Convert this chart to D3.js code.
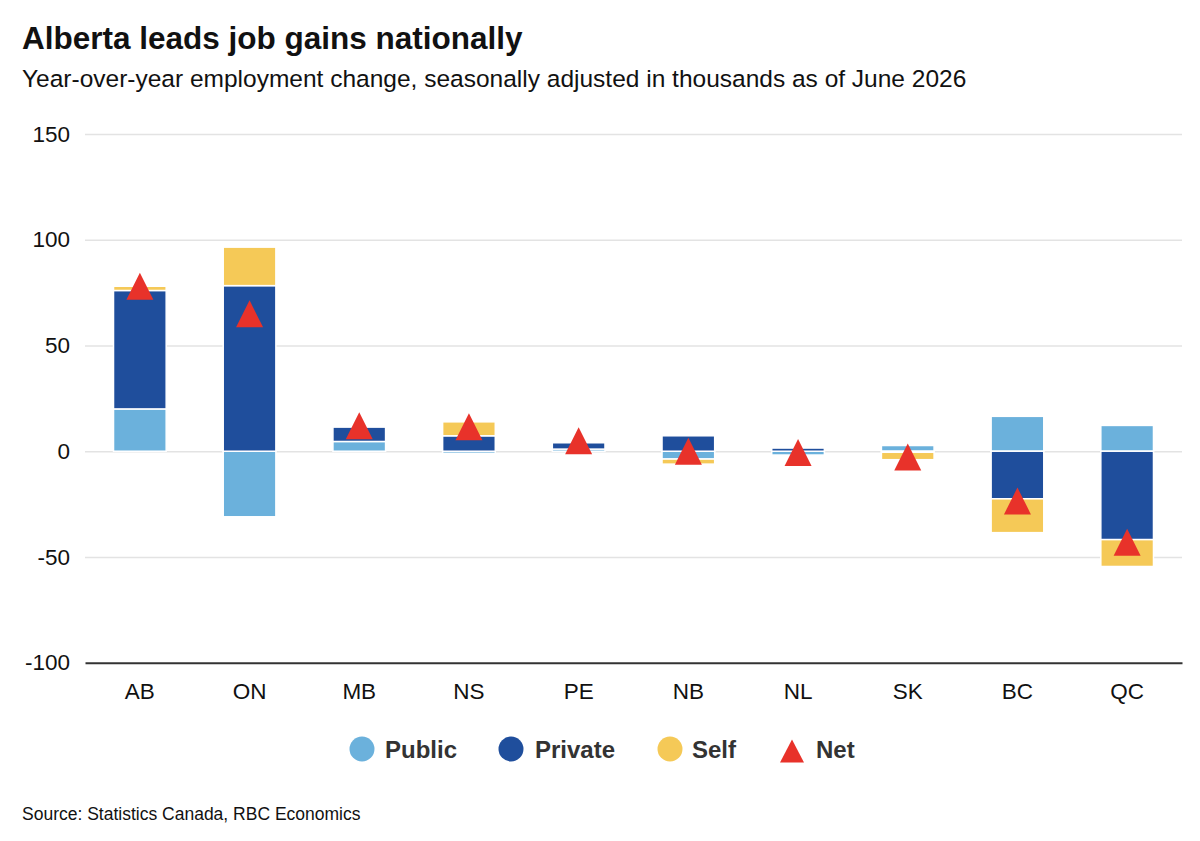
<!DOCTYPE html>
<html>
<head>
  <meta charset="utf-8">
  <script src="https://cdn.jsdelivr.net/npm/d3@7"></script>
  <title>Alberta leads job gains nationally</title>
  <style>
    body { margin: 0; background: #fff; }
    svg { font-family: "Liberation Sans", Arial, Helvetica, sans-serif; display: block; }
  </style>
</head>
<body>
<svg width="1200" height="841"></svg>

<script>
  // values, thousands of jobs
  var provinces = ["AB", "ON", "MB", "NS", "PE", "NB", "NL", "SK", "BC", "QC"];
  var publicJobs  = [20, -31, 4.6, -1, 1, -3.7, -1.8, 2.7, 16.5, 12.2];
  var privateJobs = [56, 78.3, 6.8, 7.3, 3, 7.3, 1.5, -0.5, -22.5, -41.8];
  var selfJobs    = [2, 18.2, 0, 6.6, 0, -2.4, 0, -3.5, -16, -12.7];
  var netJobs     = [78, 65, 12, 11.6, 5, 0, -0.6, -2.7, -23.5, -43];
  var yTicks = [150, 100, 50, 0, -50, -100];

  var seriesKeys = ["Public", "Private", "Self"];
  var colors = { Public: "#6bb1dc", Private: "#1f4e9c", Self: "#f5c957", Net: "#e8322a" };

  var rows = provinces.map(function (p, i) {
    return { prov: p, Public: publicJobs[i], Private: privateJobs[i], Self: selfJobs[i], Net: netJobs[i] };
  });

  var svg = d3.select("svg");
  var left = 85, right = 1182;

  var x = d3.scaleBand().domain(provinces).range([left, right]).paddingInner(0.52).paddingOuter(0.26);
  var y = d3.scaleLinear().domain([-100, 150]).range([662.7, 134]);

  // titles
  svg.append("text").attr("x", 22).attr("y", 49)
      .attr("font-size", 31.5).attr("font-weight", "bold").attr("fill", "#111")
      .text("Alberta leads job gains nationally");
  svg.append("text").attr("x", 22).attr("y", 87)
      .attr("font-size", 24.5).attr("fill", "#111")
      .text("Year-over-year employment change, seasonally adjusted in thousands as of June 2026");

  // grid + y labels
  var yAxis = d3.axisLeft(y).tickValues(yTicks).tickSize(-(right - left)).tickPadding(15)
      .tickFormat(function (d) { return String(d); });
  var gy = svg.append("g").attr("transform", "translate(" + left + ",0)").call(yAxis);
  gy.select(".domain").remove();
  gy.selectAll(".tick line").attr("stroke", function (d) { return d === -100 ? "none" : "#e3e3e3"; })
      .attr("stroke-width", 1.5);
  gy.selectAll(".tick text").attr("font-size", 22.5).attr("fill", "#111")
      .attr("font-family", "Liberation Sans, Arial, sans-serif");

  // stacked bars (diverging)
  var stack = d3.stack().keys(seriesKeys).offset(d3.stackOffsetDiverging);
  var layers = stack(rows);

  svg.append("g").selectAll("g").data(layers).enter()
      .append("g")
      .attr("fill", function (d) { return colors[d.key]; })
      .selectAll("rect").data(function (d) { return d; }).enter()
      .append("rect")
      .attr("x", function (d) { return x(d.data.prov); })
      .attr("width", x.bandwidth())
      .attr("y", function (d) { return y(Math.max(d[0], d[1])); })
      .attr("height", function (d) { return Math.abs(y(d[0]) - y(d[1])); })
      .attr("stroke", "#fff")
      .attr("stroke-width", 1.5);

  // x axis
  var xAxis = d3.axisBottom(x).tickSize(0).tickPadding(20);
  var gx = svg.append("g").attr("transform", "translate(0," + y(-100) + ")").call(xAxis);
  gx.select(".domain").attr("stroke", "#333").attr("stroke-width", 2);
  gx.selectAll(".tick text").attr("font-size", 22.5).attr("fill", "#111")
      .attr("font-family", "Liberation Sans, Arial, sans-serif");

  // net triangles
  function triangle(w, h) {
    return "M0," + (-h / 2) + "L" + (w / 2) + "," + (h / 2) + "L" + (-w / 2) + "," + (h / 2) + "Z";
  }
  svg.append("g").selectAll("path").data(rows).enter()
      .append("path")
      .attr("d", triangle(27, 27))
      .attr("fill", colors.Net)
      .attr("transform", function (d) {
        return "translate(" + (x(d.prov) + x.bandwidth() / 2) + "," + y(d.Net) + ")";
      });

  // legend
  var legendItems = [
    { key: "Public", cx: 362, tx: 385 },
    { key: "Private", cx: 511, tx: 535 },
    { key: "Self", cx: 670, tx: 692 },
    { key: "Net", cx: 792, tx: 816 }
  ];
  var lg = svg.append("g").selectAll("g").data(legendItems).enter().append("g");
  lg.filter(function (d) { return d.key !== "Net"; })
      .append("circle").attr("cx", function (d) { return d.cx; }).attr("cy", 749).attr("r", 12.5)
      .attr("fill", function (d) { return colors[d.key]; });
  lg.filter(function (d) { return d.key === "Net"; })
      .append("path").attr("d", triangle(24, 23))
      .attr("transform", function (d) { return "translate(" + d.cx + ",751)"; })
      .attr("fill", colors.Net);
  lg.append("text").attr("x", function (d) { return d.tx; }).attr("y", 758)
      .attr("font-size", 24).attr("font-weight", "bold").attr("fill", "#333")
      .text(function (d) { return d.key; });

  // source
  svg.append("text").attr("x", 22).attr("y", 820)
      .attr("font-size", 17.5).attr("fill", "#111")
      .text("Source: Statistics Canada, RBC Economics");
</script>
</body>
</html>
